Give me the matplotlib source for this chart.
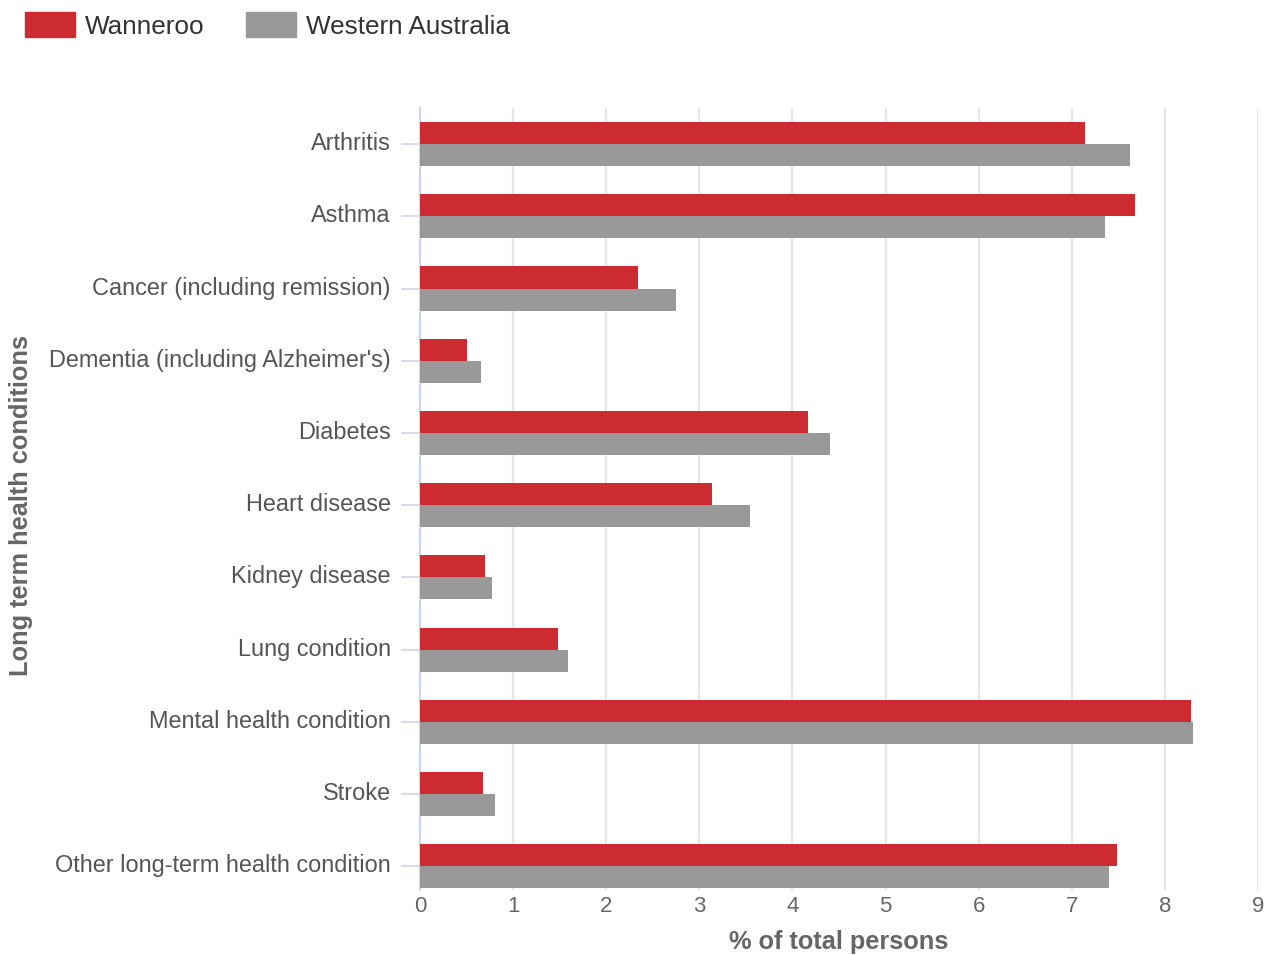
import matplotlib
matplotlib.use("Agg")
import matplotlib.pyplot as plt
import matplotlib.transforms as mtrans
from matplotlib.patches import Rectangle
import numpy as np

categories = ["Arthritis", "Asthma", "Cancer (including remission)",
              "Dementia (including Alzheimer's)", "Diabetes", "Heart disease",
              "Kidney disease", "Lung condition", "Mental health condition",
              "Stroke", "Other long-term health condition"]
wanneroo = [7.14, 7.68, 2.34, 0.51, 4.17, 3.14, 0.70, 1.48, 8.28, 0.68, 7.49]
western_australia = [7.63, 7.36, 2.75, 0.66, 4.40, 3.54, 0.77, 1.59, 8.30, 0.81, 7.40]
series_names = ["Wanneroo", "Western Australia"]
x_ticks = [0, 1, 2, 3, 4, 5, 6, 7, 8, 9]

RED = "#cc2b32"
GREY = "#999999"
plt.rcParams['font.family'] = ['Liberation Sans', 'DejaVu Sans']

W, H = 1266, 955
fig = plt.figure(figsize=(W / 100, H / 100), dpi=100)
ax = fig.add_axes([420 / W, (H - 890) / H, 838 / W, 782 / H])

y = np.arange(len(categories))
bh = 0.305
ax.barh(y - bh / 2, wanneroo, height=bh, color=RED, zorder=3)
ax.barh(y + bh / 2, western_australia, height=bh, color=GREY, zorder=3)

ax.set_xlim(0, 9)
ax.set_ylim(10.33, -0.5)
ax.set_xticks(x_ticks)
ax.set_xticklabels([str(t) for t in x_ticks])
ax.set_yticks(y)
ax.set_yticklabels(categories)

for s in ["top", "right", "bottom"]:
    ax.spines[s].set_visible(False)
ax.spines["left"].set_color("#ccd6eb")
ax.spines["left"].set_linewidth(1.5)

ax.grid(axis="x", color="#e6e6e6", linewidth=1.6, zorder=0)
ax.set_axisbelow(True)

ax.tick_params(axis="y", length=14, width=1.2, color="#ccd6eb", pad=7,
               labelsize=16.9, labelcolor="#555555")
ax.tick_params(axis="x", length=0, pad=4, labelsize=16, labelcolor="#666666")

shift = mtrans.ScaledTranslation(0, 3 / 100, fig.dpi_scale_trans)
for lab in ax.get_yticklabels():
    lab.set_transform(lab.get_transform() + shift)

ax.set_xlabel("% of total persons", fontsize=18.3, fontweight="bold",
              color="#666666", labelpad=10)
fig.text(21 / W, 1 - 506 / H, "Long term health conditions", rotation=90,
         ha="center", va="center", fontsize=18.3, fontweight="bold",
         color="#666666")

# legend
leg = [(25, RED, series_names[0]), (246, GREY, series_names[1])]
for x0, col, name in leg:
    fig.add_artist(Rectangle((x0 / W, 1 - 37 / H), 50 / W, 25 / H,
                             transform=fig.transFigure, color=col))
    fig.text((x0 + 60) / W, 1 - 24 / H, name, ha="left", va="center_baseline",
             fontsize=18.8, color="#333333")

fig.savefig("out.png", dpi=100)
